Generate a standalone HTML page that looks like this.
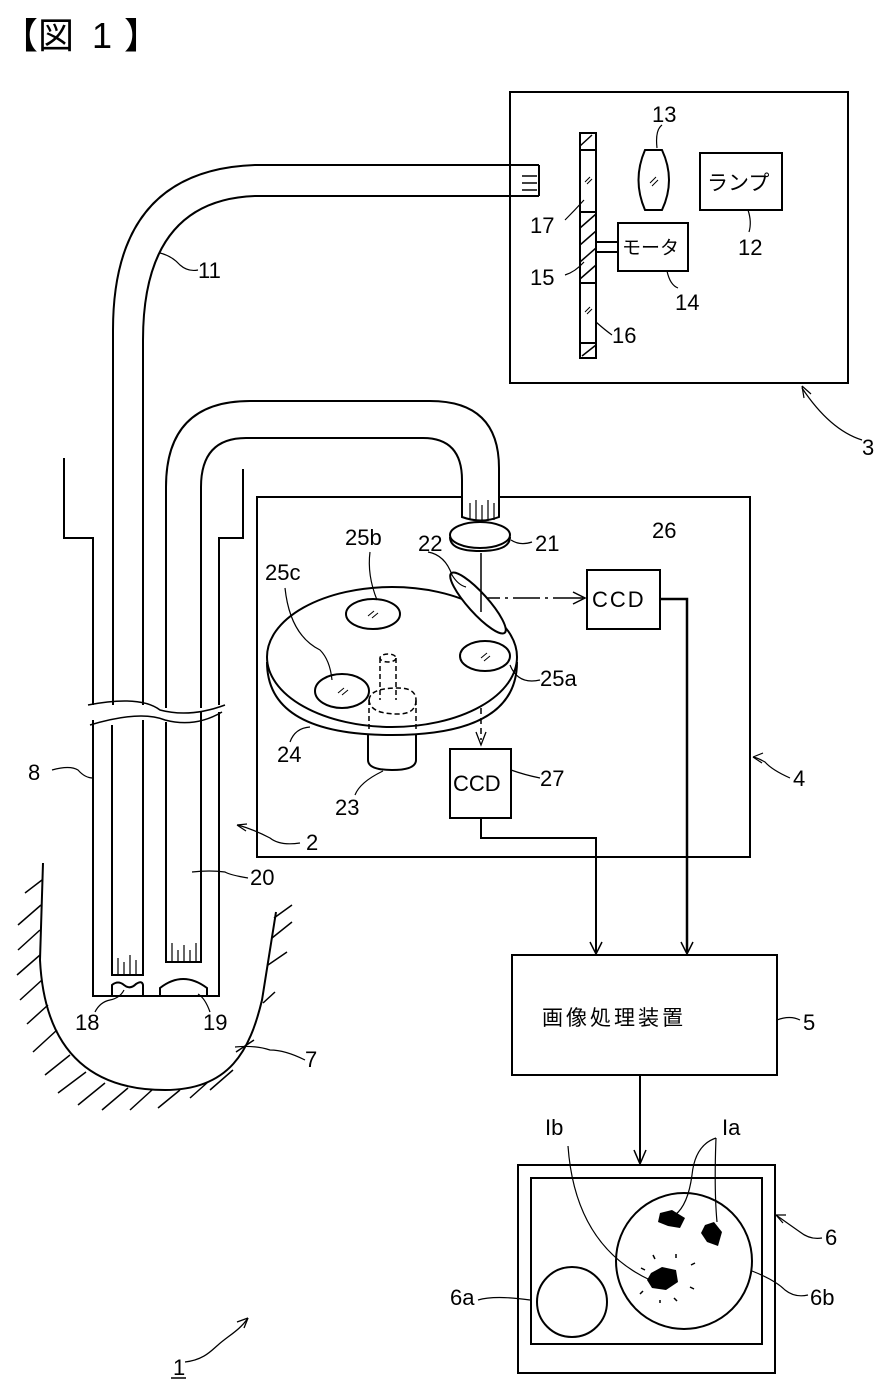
<!DOCTYPE html>
<html><head><meta charset="utf-8"><style>
html,body{margin:0;padding:0;background:#fff}
svg{display:block}
text{font-family:"Liberation Sans","Noto Sans CJK JP",sans-serif;fill:#000}
</style></head><body>
<svg width="883" height="1397" viewBox="0 0 883 1397" xmlns="http://www.w3.org/2000/svg">
<g font-size="36">
<text x="2" y="48">【</text><text x="38" y="48">図</text><text x="92" y="48">1</text><text x="124" y="48">】</text>
</g>
<g fill="none" stroke="#000" stroke-width="2">
<rect x="510" y="92" width="338" height="291"/>
<path d="M539,165 L255,165 Q113,170 113,330 L113,705"/>
<path d="M539,196 L255,196 Q143,200 143,340 L143,705"/>
<path d="M539,165 L539,196"/>
<path d="M522,176 H537 M522,183 H537 M522,190 H537" stroke-width="1.5"/>
<rect x="580" y="133" width="16" height="225"/>
<path d="M580,150 H596 M580,212 H596 M580,283 H596 M580,343 H596"/>
<path d="M580,146 L592,135 M580,228 L596,214 M580,245 L596,231 M580,262 L596,248 M580,279 L596,265 M582,356 L596,345" stroke-width="1.5"/>
<path d="M585,182 l5,-5 M587,184 l5,-5 M585,312 l5,-5 M587,314 l5,-5" stroke-width="1"/>
<path d="M645,150 L662,150 Q676,180 662,210 L645,210 Q632,180 645,150 Z"/>
<path d="M650,183 l6,-6 M652,186 l6,-6" stroke-width="1"/>
<rect x="700" y="153" width="82" height="57"/>
<rect x="618" y="223" width="70" height="48"/>
<path d="M596,242 H618 M596,252 H618"/>
<path d="M657,148 Q655,130 662,125" stroke-width="1.2"/>
<path d="M748,210 Q752,222 749,232" stroke-width="1.2"/>
<path d="M667,271 Q670,285 678,288" stroke-width="1.2"/>
<path d="M565,220 Q575,210 584,200" stroke-width="1.2"/>
<path d="M565,275 Q575,272 584,262" stroke-width="1.2"/>
<path d="M596,322 Q605,330 612,335" stroke-width="1.2"/>
<path d="M862,440 Q830,430 802,388" stroke-width="1.2"/>
<path d="M802,386 l2,12 M802,386 l9,8" stroke-width="1.2"/>
<!-- leader 11 -->
<path d="M160,253 Q172,256 180,265 Q188,272 198,270" stroke-width="1.2"/>

<path d="M64,458 V538 H93 V705"/>
<path d="M243,469 V538 H219 V705"/>
<path d="M93,720 V996 H219 V712"/>
<path d="M88,705 Q140,695 160,710 Q190,718 225,705" stroke-width="1.5"/>
<path d="M90,725 Q140,710 165,720 Q195,728 222,712" stroke-width="1.5"/>
<path d="M112,725 V975 H143 V720"/>
<path d="M118,958 V975 M124,962 V975 M130,955 V975 M136,960 V975" stroke-width="1.2"/>
<path d="M499,497 L499,468 Q499,401 430,401 L250,401 Q166,401 166,487 L166,708"/>
<path d="M462,497 L462,480 Q462,438 423,438 L246,438 Q201,438 201,487 L201,708"/>
<path d="M166,722 V962 H201 V712"/>
<path d="M172,943 V962 M178,950 V962 M184,945 V962 M190,950 V962 M196,943 V962" stroke-width="1.2"/>
<path d="M112,996 V985 Q118,980 124,985 Q130,990 136,984 Q142,980 143,985 V996"/>
<path d="M160,996 V988 Q183,970 207,988 V996"/>
<path d="M43,863 L40,960 C45,1060 100,1090 165,1090 C230,1090 250,1050 262,1000 L276,912"/>
<g stroke-width="1.5">
<path d="M42,880 L25,893 M41,905 L18,925 M40,930 L18,950 M40,955 L17,975 M42,980 L20,1000 M48,1005 L27,1024 M57,1030 L33,1052 M70,1055 L45,1075 M86,1072 L58,1093 M105,1083 L78,1105 M128,1088 L102,1110 M152,1090 L130,1110 M180,1090 L158,1108 M208,1082 L190,1098 M233,1070 L210,1090 M254,1040 L236,1052 M263,1003 L275,992 M268,965 L287,952 M272,938 L292,922 M274,918 L292,905"/>
</g>
<path d="M52,770 Q70,765 78,770 Q85,778 93,778" stroke-width="1.2"/>
<path d="M300,843 Q280,846 270,838 Q255,830 238,825" stroke-width="1.2"/>
<path d="M237,825 l10,-1 M237,825 l9,6" stroke-width="1.2"/>
<path d="M248,878 Q230,875 225,872 Q210,870 192,872" stroke-width="1.2"/>
<path d="M95,1012 Q100,1002 110,1000 Q120,998 124,990" stroke-width="1.2"/>
<path d="M210,1012 Q205,998 198,994" stroke-width="1.2"/>
<path d="M305,1060 Q285,1050 270,1050 Q255,1045 235,1047" stroke-width="1.2"/>

<path d="M462,497 H257 V857 H750 V497 H499"/>
<path d="M462,497 V517 Q481,524 499,517 V497"/>
<path d="M470,503 V520 M476,500 V521 M482,505 V521 M488,500 V521 M494,503 V520" stroke-width="1.2"/>
<ellipse cx="480" cy="535" rx="30" ry="13" fill="#fff"/>
<path d="M450,537 Q450,551 480,551 Q510,551 510,537"/>
<path d="M481,553 V590 M481,616 V640" stroke-width="1.5"/>
<path d="M481,668 V740" stroke-width="1.5" stroke-dasharray="6,4"/>
<path d="M476,732 L481,745 L486,732" stroke-width="1.3"/>
<path d="M483,598 H500 M505,598 H508 M513,598 H540 M545,598 H548 M553,598 H583" stroke-width="1.5"/>
<path d="M573,592 L585,598 L573,604" stroke-width="1.5"/>
<path d="M267,662 Q267,735 392,735 Q517,735 517,662" stroke-width="2"/>
<ellipse cx="392" cy="657" rx="125" ry="70" fill="#fff"/>
<ellipse cx="373" cy="614" rx="27" ry="15"/>
<ellipse cx="485" cy="656" rx="25" ry="15"/>
<ellipse cx="342" cy="691" rx="27" ry="17"/>
<path d="M368,616 l6,-5 M372,618 l6,-5 M481,658 l6,-5 M484,661 l6,-5 M338,693 l6,-5 M342,695 l6,-5" stroke-width="1"/>
<ellipse cx="478" cy="603" rx="40" ry="10" transform="rotate(48 478 603)" fill="#fff"/>
<path d="M481,590 V612" stroke-width="1.5"/>
<g stroke-dasharray="5,3" stroke-width="1.5">
<ellipse cx="388" cy="658" rx="8" ry="4"/>
<path d="M380,658 V700 M396,658 V700"/>
<path d="M369,700 Q370,714 398,714 Q416,714 416,700 M369,700 Q370,688 398,688 Q416,688 416,700"/>
<path d="M369,700 V730 M416,700 V730"/>
</g>
<path d="M368,735 V760 Q368,770 392,770 Q416,770 416,760 V735"/>
<rect x="587" y="570" width="73" height="59"/>
<rect x="450" y="749" width="61" height="69"/>
<path d="M660,599 H687 V952" stroke-width="2.5"/>
<path d="M681,942 L687,954 L693,942" stroke-width="1.5"/>
<path d="M481,818 V838 H596 V952" stroke-width="2"/>
<path d="M590,942 L596,954 L602,942" stroke-width="1.5"/>
<path d="M511,540 Q520,546 532,542" stroke-width="1.2"/>
<path d="M428,552 Q445,555 452,575 Q458,585 466,587" stroke-width="1.2"/>
<path d="M370,552 Q367,575 377,600" stroke-width="1.2"/>
<path d="M285,588 Q290,635 320,650 Q330,660 332,680" stroke-width="1.2"/>
<path d="M510,665 Q518,685 540,680" stroke-width="1.2"/>
<path d="M290,742 Q295,728 310,727" stroke-width="1.2"/>
<path d="M355,795 Q360,782 383,771" stroke-width="1.2"/>
<path d="M511,770 Q525,775 540,778" stroke-width="1.2"/>
<path d="M790,778 Q772,770 765,762 Q758,758 753,757" stroke-width="1.2"/>
<path d="M753,757 l10,-4 M753,757 l9,6" stroke-width="1.2"/>

<rect x="512" y="955" width="265" height="120"/>
<path d="M777,1020 Q790,1015 800,1020" stroke-width="1.2"/>
<path d="M640,1075 V1163" stroke-width="2"/>
<path d="M634,1150 L640,1164 L646,1150" stroke-width="1.5"/>
<rect x="518" y="1165" width="257" height="208"/>
<rect x="531" y="1178" width="231" height="166"/>
<circle cx="572" cy="1302" r="35"/>
<circle cx="684" cy="1261" r="68"/>
<path d="M568,1146 Q575,1245 650,1280" stroke-width="1.2"/>
<path d="M716,1138 Q695,1145 692,1175 Q688,1205 675,1215 M716,1138 Q714,1190 717,1222" stroke-width="1.2"/>
<path d="M752,1271 Q775,1280 785,1290 Q795,1298 808,1295" stroke-width="1.2"/>
<path d="M776,1215 Q790,1225 800,1232 Q810,1240 822,1238" stroke-width="1.2"/>
<path d="M776,1215 l10,0 M776,1215 l7,8" stroke-width="1.2"/>
<path d="M478,1300 Q495,1295 530,1300" stroke-width="1.2"/>
<path d="M653,1255 l2,4 M676,1254 l0,4 M691,1265 l4,-2 M641,1268 l4,2 M690,1287 l4,2 M640,1294 l3,-3 M660,1303 l0,-3 M674,1298 l3,3" stroke-width="1.5"/>
</g>
<path d="M185,1362 C204,1360 212,1350 218,1345 C228,1336 240,1330 248,1318" fill="none" stroke="#000" stroke-width="1.3"/>
<path d="M248,1318 l-11,4 M248,1318 l-4,10" fill="none" stroke="#000" stroke-width="1.3"/>
<g fill="#000">
<path d="M660,1213 L672,1210 L685,1218 L680,1228 L668,1226 L658,1222 Z"/>
<path d="M705,1225 L714,1222 L722,1232 L718,1246 L707,1242 L701,1233 Z"/>
<path d="M651,1273 L662,1267 L676,1270 L678,1282 L666,1290 L652,1288 L647,1280 Z"/>
</g>
<g font-size="22">
<text x="652" y="122">13</text>
<text x="738" y="255">12</text>
<text x="530" y="233">17</text>
<text x="530" y="285">15</text>
<text x="675" y="310">14</text>
<text x="612" y="343">16</text>
<text x="862" y="455">3</text>
<text x="198" y="278">11</text>
<text x="535" y="551">21</text>
<text x="652" y="538">26</text>
<text x="418" y="551">22</text>
<text x="345" y="545">25b</text>
<text x="265" y="580">25c</text>
<text x="540" y="686">25a</text>
<text x="277" y="762">24</text>
<text x="335" y="815">23</text>
<text x="540" y="786">27</text>
<text x="793" y="786">4</text>
<text x="28" y="780">8</text>
<text x="306" y="850">2</text>
<text x="250" y="885">20</text>
<text x="75" y="1030">18</text>
<text x="203" y="1030">19</text>
<text x="305" y="1067">7</text>
<text x="173" y="1375">1</text>
<text x="803" y="1030">5</text>
<text x="545" y="1135">Ib</text>
<text x="722" y="1135">Ia</text>
<text x="825" y="1245">6</text>
<text x="810" y="1305">6b</text>
<text x="450" y="1305">6a</text>
<text x="592" y="607" letter-spacing="2">CCD</text>
<text x="453" y="791">CCD</text>
<text x="707" y="190" font-size="21">ランプ</text>
<text x="622" y="254" font-size="19">モータ</text>
<text x="542" y="1025" font-size="21" letter-spacing="3">画像処理装置</text>
</g>
<path d="M171,1378 H186" stroke="#000" stroke-width="1.5"/>
</svg>
</body></html>
